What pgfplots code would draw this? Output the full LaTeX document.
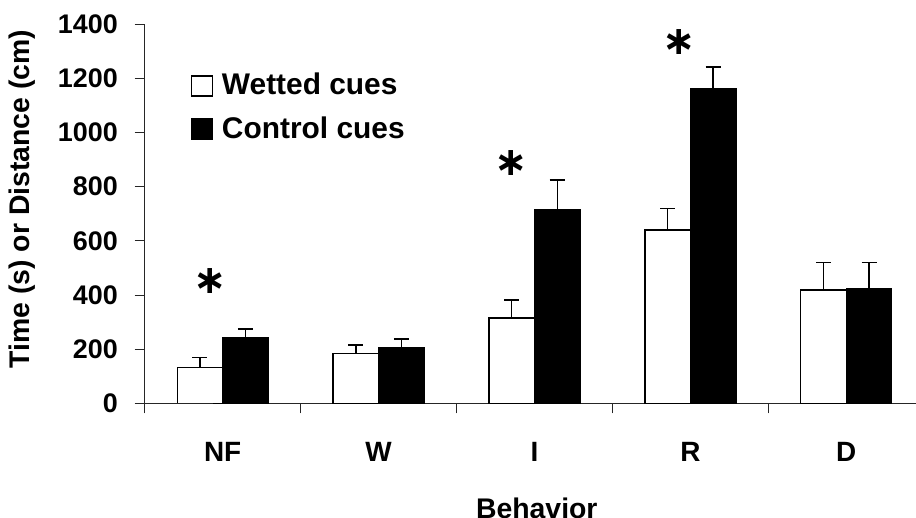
\documentclass[border=0pt]{standalone}
\usepackage{fontspec}
\setmainfont{Liberation Sans}
\newfontfamily\dejavu{DejaVu Sans}
\usepackage{pgfplots}
\pgfplotsset{compat=1.18}
\begin{document}
\begin{tikzpicture}
\path[use as bounding box, clip] (0,0) rectangle (916bp,518bp);
\begin{axis}[
  at={(144.7bp,114.7bp)}, anchor=south west,
  x=155.9bp, y=0.27093bp,
  xmin=-0.5, xmax=4.5, ymin=0, ymax=1400,
  axis x line*=bottom, axis y line*=left,
  axis line style={-, line width=0.8bp, black!85},
  ybar=0pt, bar width=45.5bp,
  xtick={0,1,2,3,4}, xticklabels={NF,W,I,R,D},
  major x tick style={draw=none},
  minor xtick={-0.5,0.5,1.5,2.5,3.5,4.5},
  ytick={0,200,...,1400},
  tick align=outside, major tick length=10bp, minor tick length=10bp,
  tick style={line width=0.8bp, black!85},
  /pgf/number format/assume math mode=true,
  /pgf/number format/1000 sep={},
  yticklabel style={font=\fontsize{27}{32}\selectfont\bfseries, anchor=east, inner sep=0pt, xshift=-16.7bp},
  xticklabel style={font=\fontsize{28}{33}\selectfont\bfseries, anchor=base, inner sep=0pt, yshift=-48.4bp},
  xlabel={Behavior},
  ylabel={Time (s) or Distance (cm)},
  xlabel style={font=\fontsize{28.5}{34}\selectfont\bfseries, at={(axis description cs:0.503,0)}, anchor=base, inner sep=0pt, yshift=-115bp},
  ylabel style={font=\fontsize{28.5}{34}\selectfont\bfseries, at={(axis description cs:-0.1578,0.5386)}, anchor=center, inner sep=0pt},
  legend style={draw=none, fill=none, at={(axis description cs:0.059,0.870)}, anchor=north west, inner sep=0pt, outer sep=0pt,
    font=\fontsize{30}{36}\selectfont\bfseries, nodes={inner sep=0pt}, row sep=20bp},
  legend cell align=left,
  legend image code/.code={\draw[#1, draw=black, line width=1.3bp] (0bp,-11bp) rectangle (21bp,9bp); \path (30bp,0bp);},
  error bars/y dir=plus, error bars/y explicit,
  error bars/error mark=-,
  error bars/error mark options={rotate=90, line width=1.4bp, mark size=7.5bp, black},
  error bars/error bar style={line width=1.4bp, black},
]
\addplot[fill=white, draw=black, line width=1.3bp] coordinates {
  (0,133) +- (0,35)
  (1,185) +- (0,30)
  (2,315) +- (0,66)
  (3,640) +- (0,80)
  (4,418) +- (0,101)
};
\addplot[fill=black, draw=black, line width=1.3bp] coordinates {
  (0,244) +- (0,30)
  (1,207) +- (0,30)
  (2,716) +- (0,108)
  (3,1163) +- (0,79)
  (4,425) +- (0,94)
};
\legend{Wetted cues, Control cues}
\node[inner sep=0pt] at (axis cs:-0.081,451) {\dejavu\bfseries\fontsize{40}{40}\selectfont ∗};
\node[inner sep=0pt] at (axis cs:1.848,888) {\dejavu\bfseries\fontsize{40}{40}\selectfont ∗};
\node[inner sep=0pt] at (axis cs:2.928,1335) {\dejavu\bfseries\fontsize{40}{40}\selectfont ∗};
\draw[line width=0.8bp, black!85] (axis cs:-0.5,0) -- ++(-10bp,0);
\end{axis}
\end{tikzpicture}
\end{document}
